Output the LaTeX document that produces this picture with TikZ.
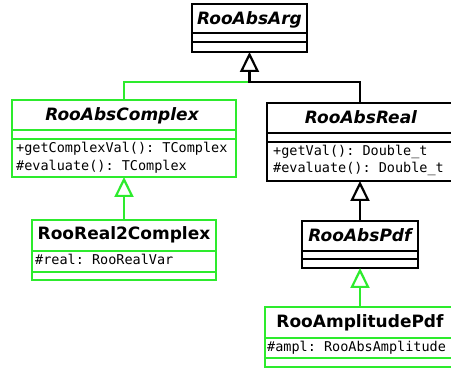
\documentclass[tikz,border=0pt]{standalone}
\usepackage{fontspec}
\usetikzlibrary{arrows.meta}
\newfontfamily\umltitlefont{DejaVu Sans}
\newfontfamily\umlmemfont{DejaVu Sans Mono}
\definecolor{umlgreen}{RGB}{45,235,45}
\tikzset{
  cls/.style={draw, line width=2.2pt, rectangle, inner sep=0pt, outer sep=0pt, fill=white},
  sep/.style={line width=2.2pt},
  absname/.style={font=\umltitlefont\bfseries\itshape\fontsize{17}{20}\selectfont, inner sep=0pt, anchor=base},
  conname/.style={font=\umltitlefont\bfseries\fontsize{17}{20}\selectfont, inner sep=0pt, anchor=base},
  member/.style={font=\umlmemfont\fontsize{13.5}{16}\selectfont, inner sep=0pt, anchor=base west},
  inherit/.style={line width=2.2pt, -{Triangle[open, length=20pt, width=19pt, line width=2.2pt]}},
}
\begin{document}
\begin{tikzpicture}[x=1pt, y=-1pt]
\useasboundingbox (0,0) rectangle (451,369);
% RooAbsArg
\node[cls, minimum width=115pt, minimum height=48pt] (arg) at (249.5,28) {};
\draw[sep] (arg.west |- 0,33) -- (arg.east |- 0,33);
\draw[sep] (arg.west |- 0,42) -- (arg.east |- 0,42);
\node[absname] (argT) at (249.5,25) {RooAbsArg};
% RooAbsComplex
\node[cls, draw=umlgreen, minimum width=224pt, minimum height=77pt] (cpx) at (124,138.5) {};
\draw[sep, umlgreen] (cpx.west |- 0,130) -- (cpx.east |- 0,130);
\draw[sep, umlgreen] (cpx.west |- 0,139) -- (cpx.east |- 0,139);
\node[absname] (cpxT) at (122,121) {RooAbsComplex};
\node[member] (cpxM1) at (16,153) {+getComplexVal():\ TComplex};
\node[member] (cpxM2) at (16,171) {\#evaluate():\ TComplex};
% RooAbsReal
\node[cls, minimum width=186pt, minimum height=78pt] (real) at (360,142) {};
\draw[sep] (real.west |- 0,133) -- (real.east |- 0,133);
\draw[sep] (real.west |- 0,142) -- (real.east |- 0,142);
\node[absname] (realT) at (361,124) {RooAbsReal};
\node[member] (realM1) at (273,156) {+getVal():\ Double\_t};
\node[member] (realM2) at (273,173) {\#evaluate():\ Double\_t};
% RooReal2Complex
\node[cls, draw=umlgreen, minimum width=184pt, minimum height=60pt] (r2c) at (124,250) {};
\draw[sep, umlgreen] (r2c.west |- 0,251) -- (r2c.east |- 0,251);
\draw[sep, umlgreen] (r2c.west |- 0,272) -- (r2c.east |- 0,272);
\node[conname] (r2cT) at (124,240) {RooReal2Complex};
\node[member] (r2cM1) at (35,265) {\#real:\ RooRealVar};
% RooAbsPdf
\node[cls, minimum width=116pt, minimum height=47pt] (pdf) at (360,244.5) {};
\draw[sep] (pdf.west |- 0,251) -- (pdf.east |- 0,251);
\draw[sep] (pdf.west |- 0,259) -- (pdf.east |- 0,259);
\node[absname] (pdfT) at (360,242) {RooAbsPdf};
% RooAmplitudePdf
\node[cls, draw=umlgreen, minimum width=190pt, minimum height=60pt] (amp) at (360,337) {};
\draw[sep, umlgreen] (amp.west |- 0,338) -- (amp.east |- 0,338);
\draw[sep, umlgreen] (amp.west |- 0,358) -- (amp.east |- 0,358);
\node[conname] (ampT) at (360,327) {RooAmplitudePdf};
\node[member] (ampM1) at (267,352) {\#ampl:\ RooAbsAmplitude};
% connectors
\coordinate (jn) at (249.5,82);
\draw[line width=2.2pt, umlgreen] (cpx.north) |- (jn);
\draw[inherit] (real.north) |- (jn) -- (arg.south);
\draw[inherit, umlgreen] (r2c.north) -- (cpx.south);
\draw[inherit] (pdf.north) -- (real.south);
\draw[inherit, umlgreen] (amp.north) -- (pdf.south);
\end{tikzpicture}
\end{document}
